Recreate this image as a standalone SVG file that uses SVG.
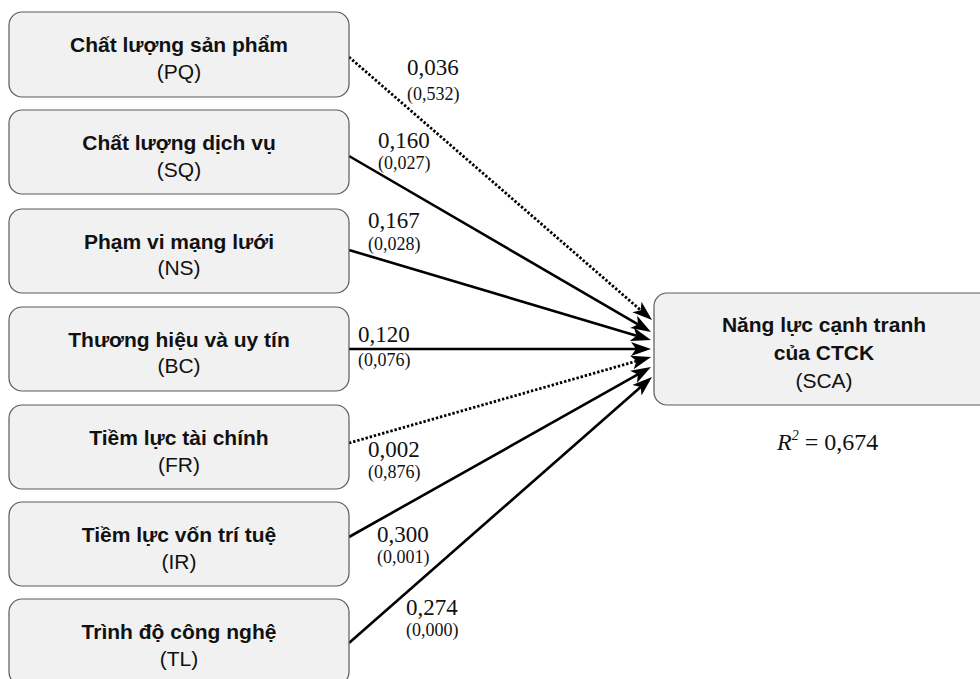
<svg xmlns="http://www.w3.org/2000/svg" width="980" height="679" viewBox="0 0 980 679">
  <style>
    .box { fill: #f1f1f1; stroke: #5a5a5a; stroke-width: 1.2; }
    .title { font-family: "Liberation Sans", Arial, sans-serif; font-size: 21px; font-weight: bold; fill: #111; text-anchor: middle; }
    .code { font-family: "Liberation Sans", Arial, sans-serif; font-size: 21px; fill: #111; text-anchor: middle; }
    .coef { font-family: "Liberation Serif", "Times New Roman", serif; font-size: 23px; fill: #111; }
    .pval { font-family: "Liberation Serif", "Times New Roman", serif; font-size: 18px; fill: #111; }
    .solid { fill: none; stroke: #000; stroke-width: 2.6; marker-end: url(#head); }
    .dotted { fill: none; stroke: #000; stroke-width: 2.8; stroke-dasharray: 2.4 1.9; marker-end: url(#head); }
  </style>
  <defs>
    <!-- notched arrowhead; the line ends at the notch -->
    <marker id="head" markerUnits="userSpaceOnUse" markerWidth="22" markerHeight="16" viewBox="0 0 22 16" refX="5" refY="8" orient="auto">
      <path d="M20,8 L0,1 L5,8 L0,15 Z" fill="#000"/>
    </marker>
  </defs>

  <!-- paths from each factor to the outcome -->
  <g id="connectors">
    <line class="dotted" x1="349" y1="57" x2="640.7" y2="310.2"/>
    <line class="solid" x1="349" y1="156" x2="638.0" y2="324.4"/>
    <line class="solid" x1="349" y1="250" x2="636.6" y2="335.7"/>
    <line class="solid" x1="349" y1="349" x2="636" y2="349"/>
    <line class="dotted" x1="349" y1="443" x2="636.6" y2="361.1"/>
    <line class="solid" x1="349" y1="537" x2="637.9" y2="374.4"/>
    <line class="solid" x1="349" y1="643" x2="640.7" y2="386.9"/>
  </g>

  <!-- path coefficients with p-values -->
  <g id="coefficients">
    <text class="coef" x="407" y="75">0,036</text>
    <text class="pval" x="407" y="100">(0,532)</text>
    <text class="coef" x="378" y="148">0,160</text>
    <text class="pval" x="378" y="169">(0,027)</text>
    <text class="coef" x="368" y="228">0,167</text>
    <text class="pval" x="368" y="250">(0,028)</text>
    <text class="coef" x="358" y="342">0,120</text>
    <text class="pval" x="358" y="366">(0,076)</text>
    <text class="coef" x="368" y="457">0,002</text>
    <text class="pval" x="368" y="478">(0,876)</text>
    <text class="coef" x="377" y="542">0,300</text>
    <text class="pval" x="377" y="563">(0,001)</text>
    <text class="coef" x="406" y="615">0,274</text>
    <text class="pval" x="406" y="636">(0,000)</text>
  </g>

  <g id="PQ">
    <rect class="box" x="9" y="12" width="340" height="85" rx="13"/>
    <text class="title" x="179" y="52">Chất lượng sản phẩm</text>
    <text class="code" x="179" y="79">(PQ)</text>
  </g>
  <g id="SQ">
    <rect class="box" x="9" y="110" width="340" height="84" rx="13"/>
    <text class="title" x="179" y="150">Chất lượng dịch vụ</text>
    <text class="code" x="179" y="177">(SQ)</text>
  </g>
  <g id="NS">
    <rect class="box" x="9" y="209" width="340" height="84" rx="13"/>
    <text class="title" x="179" y="249">Phạm vi mạng lưới</text>
    <text class="code" x="179" y="275">(NS)</text>
  </g>
  <g id="BC">
    <rect class="box" x="9" y="307" width="340" height="84" rx="13"/>
    <text class="title" x="179" y="347">Thương hiệu và uy tín</text>
    <text class="code" x="179" y="373">(BC)</text>
  </g>
  <g id="FR">
    <rect class="box" x="9" y="405" width="340" height="84" rx="13"/>
    <text class="title" x="179" y="445">Tiềm lực tài chính</text>
    <text class="code" x="179" y="472">(FR)</text>
  </g>
  <g id="IR">
    <rect class="box" x="9" y="502" width="340" height="84" rx="13"/>
    <text class="title" x="179" y="542">Tiềm lực vốn trí tuệ</text>
    <text class="code" x="179" y="569">(IR)</text>
  </g>
  <g id="TL">
    <rect class="box" x="9" y="599" width="340" height="86" rx="13"/>
    <text class="title" x="179" y="639">Trình độ công nghệ</text>
    <text class="code" x="179" y="666">(TL)</text>
  </g>

  <g id="SCA">
    <rect class="box" x="654" y="293" width="340" height="112" rx="13"/>
    <text class="title" x="824" y="332">Năng lực cạnh tranh</text>
    <text class="title" x="824" y="360">của CTCK</text>
    <text class="code" x="824" y="388">(SCA)</text>
    <text x="777" y="450" font-family="'Liberation Serif', 'Times New Roman', serif" font-size="24px" fill="#111"><tspan font-style="italic">R</tspan><tspan font-style="italic" font-size="14px" dy="-10">2</tspan><tspan dy="10"> = 0,674</tspan></text>
  </g>
</svg>
